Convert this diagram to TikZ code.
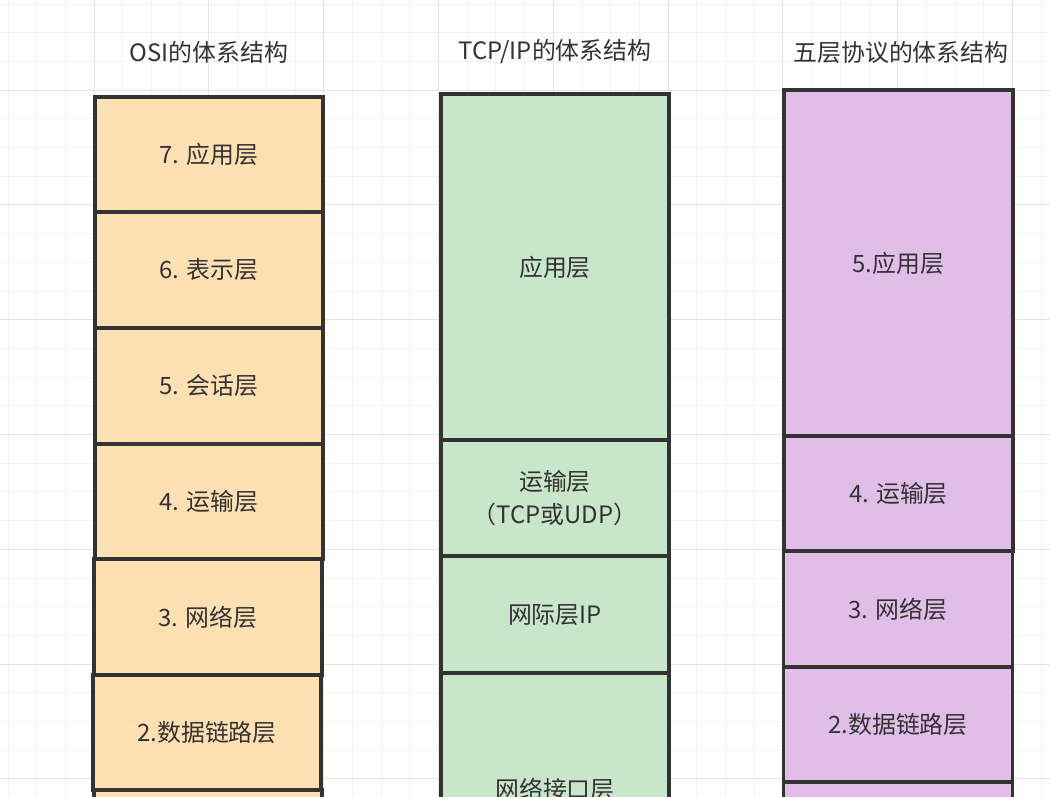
\documentclass[tikz,border=0pt]{standalone}
\usepackage{fontspec}
\setmainfont{Noto Sans CJK SC}
\usepackage{xcolor}
\usetikzlibrary{positioning}
\definecolor{osiorange}{HTML}{FFE0B2}
\definecolor{tcpgreen}{HTML}{C8E6C9}
\definecolor{fivepurple}{HTML}{E1BEE7}
\definecolor{boxborder}{HTML}{333333}
\definecolor{textgray}{HTML}{333333}
\definecolor{gridminor}{HTML}{F2F2F2}
\definecolor{gridmajor}{HTML}{E4E4E4}

\begin{document}
\begin{tikzpicture}[
  x=0.025cm, y=-0.025cm,
  every node/.style={font=\fontsize{17}{23}\selectfont, text=textgray},
  layer/.style={rectangle, draw=boxborder, line width=0.08cm, inner sep=0pt, outer sep=0pt, align=center, minimum width=5.7cm},
  osilayer/.style={layer, fill=osiorange},
  tcplayer/.style={layer, fill=tcpgreen},
  fivelayer/.style={layer, fill=fivepurple, minimum width=5.725cm},
  title/.style={anchor=center},
  gridline/.style={gridminor, line width=0.6pt},
  gridbold/.style={gridmajor, line width=0.8pt},
]

\useasboundingbox (0,0) rectangle (1050,796);
\clip (0,0) rectangle (1050,796);
\fill[white] (0,0) rectangle (1050,796);

% Background grid
\foreach \k in {0,...,36}
  \draw[gridline] ({8+\k*28.7},0) -- ({8+\k*28.7},796);
\foreach \k in {0,...,27}
  \draw[gridline] (0,{4+\k*28.7}) -- (1050,{4+\k*28.7});
\foreach \k in {0,...,8}
  \draw[gridbold] ({8+(3+4*\k)*28.7},0) -- ({8+(3+4*\k)*28.7},796);
\foreach \k in {0,...,6}
  \draw[gridbold] (0,{4+(3+4*\k)*28.7}) -- (1050,{4+(3+4*\k)*28.7});

% Titles
\node[title] (osititle) at (209, 52) {OSI的体系结构};
\node[title] (tcptitle) at (555, 52) {TCP/IP的体系结构};
\node[title] (fivetitle) at (901, 52) {五层协议的体系结构};

% OSI layers
\node[osilayer, minimum height=2.875cm] (osi7) at (209, 154.5) {7. 应用层};
\node[osilayer, minimum height=2.9cm] (osi6) at (209, 270) {6. 表示层};
\node[osilayer, minimum height=2.9cm] (osi5) at (209, 386) {5. 会话层};
\node[osilayer, minimum height=2.875cm] (osi4) at (209, 501.5) {4. 运输层};
\node[osilayer, minimum height=2.9cm] (osi3) at (208, 617) {3. 网络层};
\node[osilayer, minimum height=2.875cm] (osi2) at (207, 732.5) {2.数据链路层};
\node[osilayer, minimum height=2.9cm] (osi1) at (208, 848) {};

% TCP/IP layers
\node[tcplayer, minimum height=8.65cm] (tcpapp) at (555, 267) {应用层};
\node[tcplayer, minimum height=2.9cm] (tcptrans) at (555, 498) {运输层\\（TCP或UDP）};
\node[tcplayer, minimum height=2.925cm] (tcpnet) at (555, 614.5) {网际层IP};
\node[tcplayer, minimum height=5.8cm] (tcplink) at (555, 789) {网络接口层};

% Five-layer model
\node[fivelayer, minimum height=8.65cm] (fiveapp) at (898.5, 263) {5.应用层};
\node[fivelayer, minimum height=2.875cm] (fivetrans) at (898.5, 493.5) {4. 运输层};
\node[fivelayer, minimum height=2.9cm] (fivenet) at (898, 609) {3. 网络层};
\node[fivelayer, minimum height=2.875cm] (fivelink) at (898, 724.5) {2.数据链路层};
\node[fivelayer, minimum height=2.9cm] (fivephys) at (898, 840) {};

\end{tikzpicture}
\end{document}
